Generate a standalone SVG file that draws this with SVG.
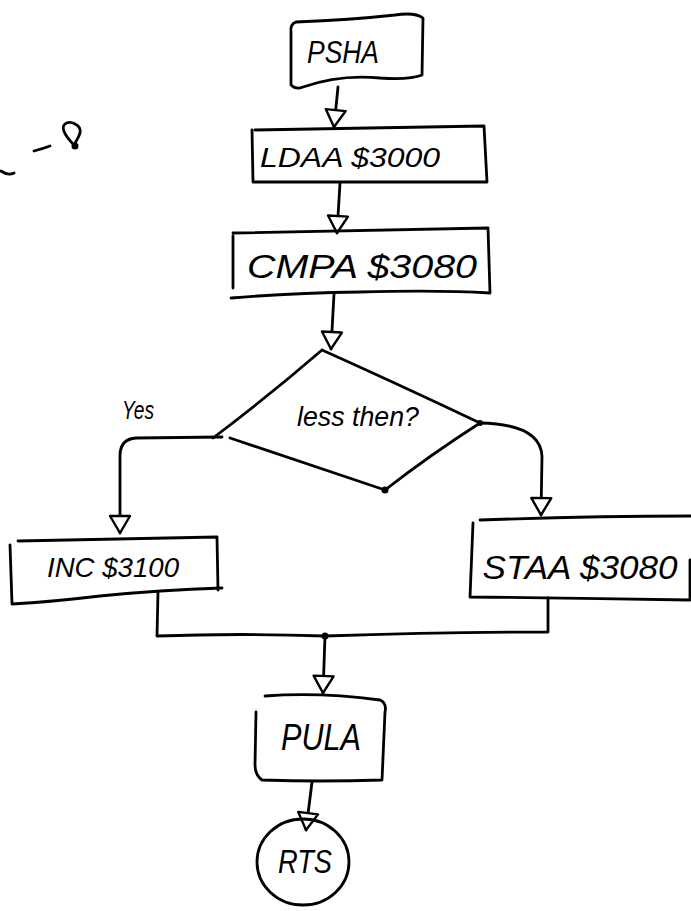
<svg xmlns="http://www.w3.org/2000/svg" width="691" height="911" viewBox="0 0 691 911">
<style>
.s{fill:none;stroke:#000;stroke-width:2.8;stroke-linecap:round;stroke-linejoin:round}
.t{font-family:"Liberation Sans",Arial,sans-serif;font-style:italic;fill:#000;text-anchor:middle;dominant-baseline:central}
</style>
<defs>
<marker id="ah" markerUnits="userSpaceOnUse" markerWidth="26" markerHeight="26" viewBox="-13 -13 26 26" refX="9" refY="0" orient="auto">
<path d="M9,0 L-8,-10 L-8,10 Z" fill="#fff" stroke="#000" stroke-width="2.4" stroke-linejoin="round"/>
</marker>
</defs>
<rect width="691" height="911" fill="#fff"/>
<g id="marks">
<path class="s" d="M1,171 Q8,176 14,173"/>
<path class="s" d="M34,151 Q42,149 50,146"/>
<path class="s" d="M75,146 C66,137 60,128 65,124 C70,120 82,125 80,133 C78,140 73,144 75,146"/>
<circle cx="75" cy="146" r="3.5" fill="#000"/>
</g>
<g id="connectors">
<path class="s" d="M338,87 L334,127" marker-end="url(#ah)"/>
<path class="s" d="M340,183 L337,233" marker-end="url(#ah)"/>
<path class="s" d="M334,294 L331,349" marker-end="url(#ah)"/>
<path class="s" d="M222,437 L136,438 Q120,439 120,456 L120,533" marker-end="url(#ah)"/>
<path class="s" d="M480,423 Q540,424 542,456 L541,515" marker-end="url(#ah)"/>
<path class="s" d="M158,592 L157,636 Q240,633 325,636 Q440,632 548,632 L548,598"/>
<path class="s" d="M325,636 L323,693" marker-end="url(#ah)"/>
<circle cx="325" cy="636" r="3.5" fill="#000"/>
<path class="s" d="M312,782 L306,830" marker-end="url(#ah)"/>
</g>
<g id="psha">
<path class="s" d="M296,22 Q290,24 291,32 L291,85 Q296,90 303,87 Q340,74 380,78 Q410,80 422,75 L423,18 Q415,12 395,15 Q350,20 296,22"/>
<text class="t" x="343" y="52" font-size="32" textLength="72" lengthAdjust="spacingAndGlyphs">PSHA</text>
</g>
<g id="ldaa">
<path class="s" d="M255,130 Q370,128 484,126 L487,182 Q370,182 253,182 L252,130"/>
<text class="t" x="350" y="157" font-size="28" textLength="180" lengthAdjust="spacingAndGlyphs">LDAA  $3000</text>
</g>
<g id="cmpa">
<path class="s" d="M233,233 Q360,230 488,228 L490,293 Q440,290 360,292 Q290,293 231,298 M233,236 L233,288"/>
<text class="t" x="362" y="266" font-size="34" textLength="230" lengthAdjust="spacingAndGlyphs">CMPA  $3080</text>
</g>
<g id="decision">
<path class="s" d="M322,350 Q400,385 480,423 Q430,455 385,490 Q310,465 230,438 M213,438 Q270,395 322,350"/>
<circle cx="480" cy="423" r="3" fill="#000"/>
<circle cx="385" cy="490" r="3.5" fill="#000"/>
<text class="t" x="358" y="416" font-size="28" textLength="122" lengthAdjust="spacingAndGlyphs">less then?</text>
<text class="t" x="138" y="410" font-size="25" textLength="32" lengthAdjust="spacingAndGlyphs">Yes</text>
</g>
<g id="inc">
<path class="s" d="M18,541 Q120,539 217,537 L218,590 M222,588 Q160,590 100,596 Q50,602 12,604 L10,545"/>
<text class="t" x="113" y="567" font-size="28" textLength="132" lengthAdjust="spacingAndGlyphs">INC  $3100</text>
</g>
<g id="staa">
<path class="s" d="M480,520 Q590,516 691,516 M473,523 L470,597 Q580,598 690,600 L690,560"/>
<text class="t" x="580" y="567" font-size="34" textLength="195" lengthAdjust="spacingAndGlyphs">STAA  $3080</text>
</g>
<g id="pula">
<path class="s" d="M265,696 Q320,692 380,700 Q387,703 385,712 L382,780 Q320,782 262,780 Q255,775 255,765 L256,712"/>
<text class="t" x="321" y="737" font-size="36" textLength="80" lengthAdjust="spacingAndGlyphs">PULA</text>
</g>
<g id="rts">
<ellipse class="s" cx="303" cy="862" rx="46" ry="43"/>
<text class="t" x="305" y="861" font-size="34" textLength="54" lengthAdjust="spacingAndGlyphs">RTS</text>
</g>
</svg>
